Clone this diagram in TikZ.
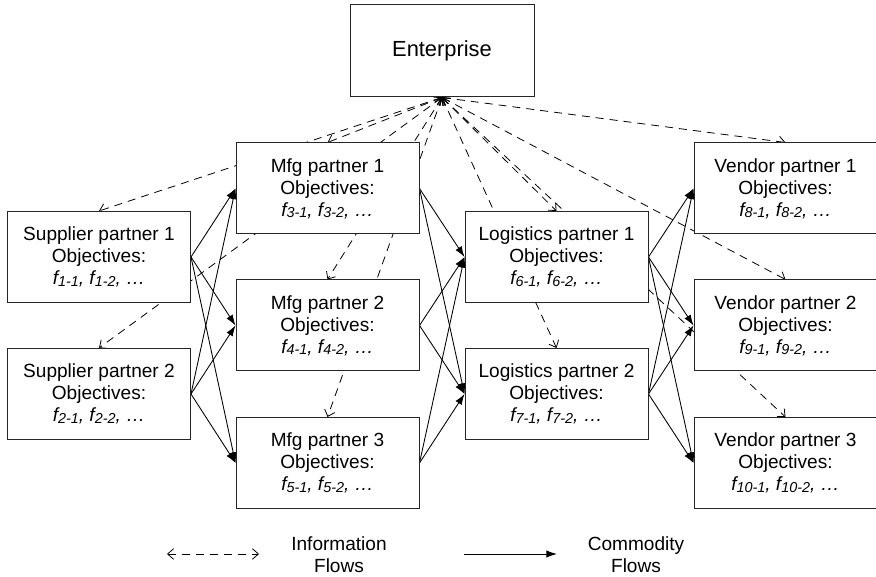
\documentclass[tikz,border=0pt]{standalone}
\usepackage{fontspec}
\setmainfont{Liberation Sans}
\usetikzlibrary{arrows.meta,backgrounds}
\newcommand\fsub[1]{\textit{f}{\fontsize{10.8pt}{10.8pt}\selectfont\raisebox{-1.3pt}{\itshape #1}}}
\newcommand\objl[2]{{\itshape \fsub{#1}, \fsub{#2}, …}}
\tikzset{
  partnerbox/.style={draw=black!85, line width=0.75pt, fill=white, minimum width=137.25pt, minimum height=68.25pt, inner sep=0pt, align=center, font=\fontsize{14.3pt}{16.5pt}\selectfont},
  entbox/.style={draw=black!85, line width=0.75pt, fill=white, minimum width=138pt, minimum height=69pt, inner sep=0pt, font=\fontsize{16.4pt}{19pt}\selectfont},
  infoflow/.style={line width=0.6pt, dash pattern=on 6pt off 4.5pt, {Straight Barb[length=4.5pt,width=8pt]}-{Straight Barb[length=4.5pt,width=8pt]}},
  commflow/.style={line width=0.65pt, -{Latex[length=8pt,width=5.5pt]}},
  legtext/.style={align=center, font=\fontsize{14.3pt}{16.5pt}\selectfont}
}
\begin{document}
\begin{tikzpicture}[x=0.75pt,y=-0.75pt]
\clip (0,0) rectangle (876,577);
\node[entbox] (ent) at (442,51) {Enterprise};
\node[partnerbox] (s1) at (99,257) {Supplier partner 1\\Objectives:\\\objl{1-1}{1-2}};
\node[partnerbox] (s2) at (99,394) {Supplier partner 2\\Objectives:\\\objl{2-1}{2-2}};
\node[partnerbox] (m1) at (327.5,188.5) {Mfg partner 1\\Objectives:\\\objl{3-1}{3-2}};
\node[partnerbox] (m2) at (327.5,325.5) {Mfg partner 2\\Objectives:\\\objl{4-1}{4-2}};
\node[partnerbox] (m3) at (327.5,463) {Mfg partner 3\\Objectives:\\\objl{5-1}{5-2}};
\node[partnerbox] (l1) at (556.5,257) {Logistics partner 1\\Objectives:\\\objl{6-1}{6-2}};
\node[partnerbox] (l2) at (556.5,394) {Logistics partner 2\\Objectives:\\\objl{7-1}{7-2}};
\node[partnerbox] (v1) at (785.5,188.5) {Vendor partner 1\\Objectives:\\\objl{8-1}{8-2}};
\node[partnerbox] (v2) at (785.5,325.5) {Vendor partner 2\\Objectives:\\\objl{9-1}{9-2}};
\node[partnerbox] (v3) at (785.5,463) {Vendor partner 3\\Objectives:\\\objl{10-1}{10-2}};
\begin{pgfonlayer}{background}
\foreach \t in {s1,s2,m1,m2,m3,l1,l2,v1,v2,v3}
  \draw[infoflow] (ent.south) -- (\t.north);
\foreach \a in {s1,s2}
  \foreach \b in {m1,m2,m3}
    \draw[commflow] (\a.east) -- (\b.west);
\foreach \a in {m1,m2,m3}
  \foreach \b in {l1,l2}
    \draw[commflow] (\a.east) -- (\b.west);
\foreach \a in {l1,l2}
  \foreach \b in {v1,v2,v3}
    \draw[commflow] (\a.east) -- (\b.west);
\end{pgfonlayer}
\coordinate (ia) at (167,554);
\coordinate (ib) at (259,554);
\coordinate (ca) at (464,554);
\coordinate (cb) at (557,554);
\draw[infoflow] (ia) -- (ib);
\draw[commflow] (ca) -- (cb);
\node[legtext] (it) at (339,555) {Information\\Flows};
\node[legtext] (ct) at (636,555) {Commodity\\Flows};
\end{tikzpicture}
\end{document}
